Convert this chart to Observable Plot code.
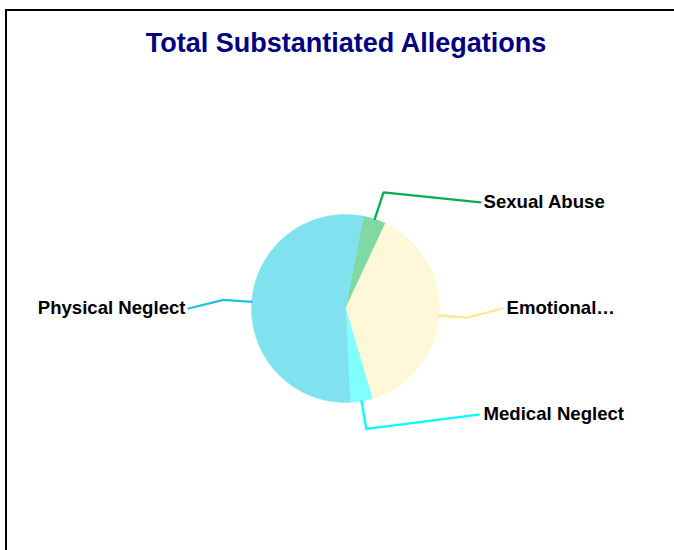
<!DOCTYPE html>
<html>
<head>
<meta charset="utf-8">
<script src="https://cdn.jsdelivr.net/npm/d3@7"></script>
<script src="https://cdn.jsdelivr.net/npm/@observablehq/plot@0.6"></script>
<style>
  html, body { margin: 0; padding: 0; background: #fff; }
  body { width: 674px; height: 550px; position: relative; overflow: hidden; font-family: "Liberation Sans", Arial, sans-serif; }
  #frame { position: absolute; left: 5px; top: 9px; width: 760px; height: 640px; border: 2px solid #000; box-sizing: border-box; }
  #title { position: absolute; left: 0; width: 692px; top: 28px; text-align: center; font-size: 27px; line-height: 31px; font-weight: bold; color: #000080; }
  #chart { position: absolute; left: 0; top: 0; }
</style>
</head>
<body>
<div id="frame"></div>
<div id="title">Total Substantiated Allegations</div>
<div id="chart"></div>
<script>
// Data (clockwise order, starting near the top)
const categories = ["Sexual Abuse", "Emotional…", "Medical Neglect", "Physical Neglect"];
const values = [39, 384, 38, 539];
const fillColors = ["#80D8A2", "#FFF8D8", "#80FFFF", "#80E1EF"];
const lineColors = ["#00B050", "#FFE890", "#00FFFF", "#20C0E0"];

// Layout
const W = 674, H = 550;
const cx = 345, cy = 308, R = 94;       // pixel center & radius
const startDeg = 11.1;                   // first slice start, clockwise from top
const elbowK = 1.3;
// label line end points (in radius units, relative to center; y up)
const labelAnchors = [[1.436, 1.128], [1.67, 0.0], [1.415, -1.128], [-1.67, 0.0]];
const labelDx = [3, 4, 5, -3];

const total = d3.sum(values);
const slices = [];
let acc = startDeg;
values.forEach((v, i) => {
  const a0 = acc, a1 = acc + v / total * 360;
  acc = a1;
  slices.push({name: categories[i], a0, a1, mid: (a0 + a1) / 2, i});
});
const pt = (deg, r) => {
  const t = deg * Math.PI / 180;
  return {x: r * Math.sin(t), y: r * Math.cos(t)};
};

const marks = [];
slices.forEach(s => {
  const pts = [{x: 0, y: 0}];
  const n = Math.max(2, Math.ceil((s.a1 - s.a0) / 0.5));
  for (let k = 0; k <= n; k++) pts.push(pt(s.a0 + (s.a1 - s.a0) * k / n, 1));
  pts.push({x: 0, y: 0});
  marks.push(Plot.line(pts, {x: "x", y: "y", fill: fillColors[s.i], stroke: fillColors[s.i], strokeWidth: 0.5, curve: "linear"}));
});
slices.forEach(s => {
  const e = pt(s.mid, 1), b = pt(s.mid, elbowK);
  const [lx, ly] = labelAnchors[s.i];
  marks.push(Plot.line([e, b, {x: lx, y: ly}], {x: "x", y: "y", stroke: lineColors[s.i], strokeWidth: 2.3, strokeLinejoin: "miter"}));
});
slices.forEach(s => {
  const [lx, ly] = labelAnchors[s.i];
  marks.push(Plot.text([{x: lx, y: ly, t: s.name}], {
    x: "x", y: "y", text: "t",
    dx: labelDx[s.i], textAnchor: labelDx[s.i] < 0 ? "end" : "start",
    fontSize: 18.6, fontWeight: "bold", fill: "#000",
    fontFamily: "'Liberation Sans', Arial, sans-serif"
  }));
});

const chart = Plot.plot({
  width: W, height: H,
  margin: 0,
  x: {domain: [-cx / R, (W - cx) / R], axis: null},
  y: {domain: [-(H - cy) / R, cy / R], axis: null},
  style: {background: "transparent", overflow: "visible"},
  marks
});
document.getElementById("chart").appendChild(chart);
</script>
</body>
</html>
